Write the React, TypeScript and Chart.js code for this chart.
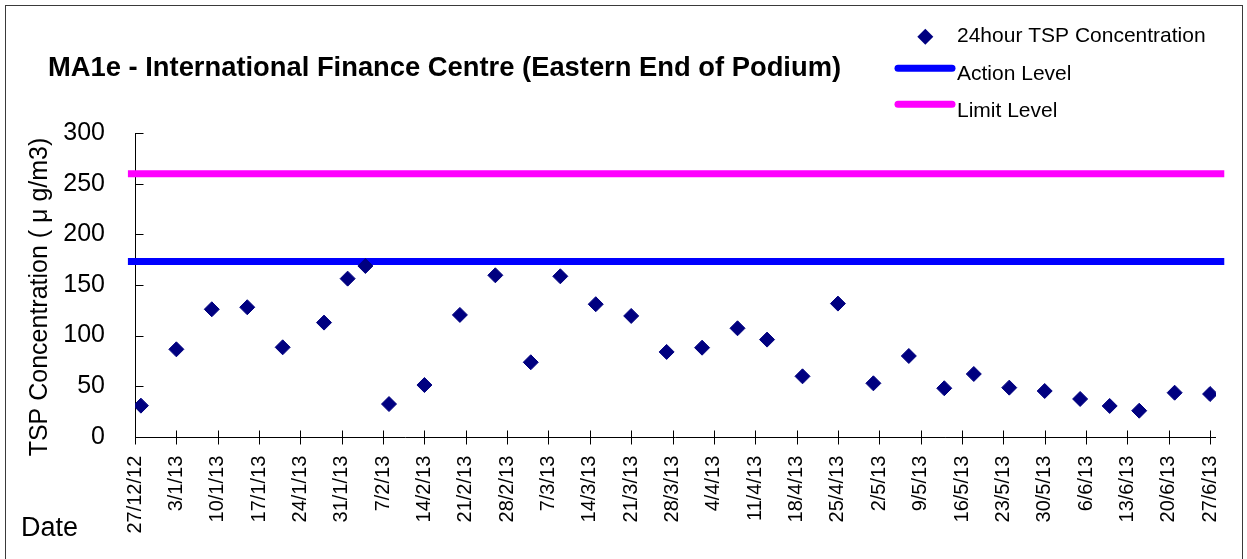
import { useEffect, useRef } from "react";
import { Chart, registerables } from "chart.js";

Chart.register(...registerables);

const chartTitle = "MA1e - International Finance Centre (Eastern End of Podium)";
const yAxisTitle = "TSP Concentration ( \u03bc g/m3)";
const xAxisTitle = "Date";
const seriesLabels = ["24hour TSP Concentration", "Action Level", "Limit Level"];

const sampleDates = [
  "28/12/12", "3/1/13", "9/1/13", "15/1/13", "21/1/13", "28/1/13", "1/2/13", "4/2/13",
  "8/2/13", "14/2/13", "20/2/13", "26/2/13", "4/3/13", "9/3/13", "15/3/13", "21/3/13",
  "27/3/13", "2/4/13", "8/4/13", "13/4/13", "19/4/13", "25/4/13", "1/5/13", "7/5/13",
  "13/5/13", "18/5/13", "24/5/13", "30/5/13", "5/6/13", "10/6/13", "15/6/13", "21/6/13",
  "27/6/13",
];
const tspValues = [
  30.7, 86.4, 126.0, 128.0, 88.4, 112.8, 156.3, 168.8,
  32.3, 51.1, 120.4, 159.6, 73.6, 158.6, 131.0, 119.4,
  83.8, 88.0, 107.2, 96.0, 59.7, 131.6, 52.8, 79.8,
  47.9, 62.0, 48.5, 45.2, 37.3, 30.4, 25.7, 43.5,
  42.2,
];
const actionLevel = 173.3;
const limitLevel = 260;
// level lines run slightly past both ends of the date axis (days from 27/12/12)
const levelLineDays = [-1.2, 184.4];

const tickLabels = [
  "27/12/12", "3/1/13", "10/1/13", "17/1/13", "24/1/13", "31/1/13", "7/2/13", "14/2/13",
  "21/2/13", "28/2/13", "7/3/13", "14/3/13", "21/3/13", "28/3/13", "4/4/13", "11/4/13",
  "18/4/13", "25/4/13", "2/5/13", "9/5/13", "16/5/13", "23/5/13", "30/5/13", "6/6/13",
  "13/6/13", "20/6/13", "27/6/13",
];
const xAxisEndDate = "28/6/13";
const yMin = 0;
const yMax = 300;
const yStep = 50;

const FONT = '"Liberation Sans", Arial, Helvetica, sans-serif';

function parseDMY(s: string): number {
  const [d, m, y] = s.split("/").map(Number);
  return Date.UTC(2000 + y, m - 1, d);
}
const originTime = parseDMY(tickLabels[0]);
function dayIndex(s: string): number {
  return Math.round((parseDMY(s) - originTime) / 86400000);
}

const decorPlugin = {
  id: "decor",
  beforeDatasetsDraw(chart: any) {
    const { ctx, chartArea, scales } = chart;
    const xs = scales.x;
    const ys = scales.y;
    ctx.save();
    ctx.strokeStyle = "#000";
    ctx.lineWidth = 1;
    const ax = Math.round(chartArea.left) + 0.5;
    const ay = Math.round(chartArea.bottom) + 0.5;
    ctx.beginPath();
    ctx.moveTo(ax, Math.round(chartArea.top));
    ctx.lineTo(ax, ay);
    ctx.lineTo(Math.round(chartArea.right), ay);
    for (let v = yMin; v <= yMax; v += yStep) {
      const py = Math.round(ys.getPixelForValue(v)) + 0.5;
      ctx.moveTo(ax, py);
      ctx.lineTo(ax + 8, py);
    }
    xs.ticks.forEach((t: any) => {
      const px = Math.round(xs.getPixelForValue(t.value)) + 0.5;
      ctx.moveTo(px, ay - 7);
      ctx.lineTo(px, ay + 7);
    });
    ctx.stroke();
    ctx.restore();
  },
  afterDraw(chart: any) {
    const { ctx } = chart;
    const ds = chart.data.datasets;
    ctx.save();
    ctx.fillStyle = "#000";
    ctx.textAlign = "left";
    ctx.textBaseline = "alphabetic";
    // title
    ctx.font = `bold 27.35px ${FONT}`;
    ctx.fillText(chartTitle, 48, 75.5);
    // legend
    ctx.font = `21px ${FONT}`;
    const rows = [42.3, 80, 116.5];
    const markY = [36.7, 68.3, 104.3];
    ds.forEach((d: any, i: number) => {
      if (i === 0) {
        const cx = 925.3;
        const cy = markY[i];
        const r = 8;
        ctx.beginPath();
        ctx.moveTo(cx - r, cy);
        ctx.lineTo(cx, cy - r);
        ctx.lineTo(cx + r, cy);
        ctx.lineTo(cx, cy + r);
        ctx.closePath();
        ctx.fillStyle = d.backgroundColor;
        ctx.fill();
      } else {
        ctx.beginPath();
        ctx.lineCap = "round";
        ctx.lineWidth = 7;
        ctx.strokeStyle = d.borderColor;
        ctx.moveTo(898, markY[i]);
        ctx.lineTo(952, markY[i]);
        ctx.stroke();
      }
      ctx.fillStyle = "#000";
      ctx.fillText(d.label, 957, rows[i]);
    });
    // axis titles
    ctx.font = `27px ${FONT}`;
    ctx.fillText(xAxisTitle, 21, 536);
    ctx.save();
    ctx.translate(40, 297);
    ctx.rotate(-Math.PI / 2);
    ctx.textAlign = "center";
    ctx.textBaseline = "middle";
    ctx.font = `25px ${FONT}`;
    ctx.fillText(yAxisTitle, 0, 0);
    ctx.restore();
    ctx.restore();
  },
};

export default function App() {
  const canvasRef = useRef<HTMLCanvasElement | null>(null);

  useEffect(() => {
    const canvas = canvasRef.current;
    if (!canvas) return;
    const scatterData = sampleDates.map((d, i) => ({ x: dayIndex(d), y: tspValues[i] }));
    const actionData = levelLineDays.map((x) => ({ x, y: actionLevel }));
    const limitData = levelLineDays.map((x) => ({ x, y: limitLevel }));

    const chart = new Chart(canvas, {
      type: "scatter",
      data: {
        datasets: [
          {
            label: seriesLabels[0],
            data: scatterData,
            backgroundColor: "#000080",
            borderColor: "#000080",
            borderWidth: 1,
            pointStyle: "rectRot",
            pointRadius: 7.5,
            showLine: false,
          },
          {
            label: seriesLabels[1],
            data: actionData,
            type: "line",
            borderColor: "#0000FF",
            backgroundColor: "#0000FF",
            borderWidth: 7,
            pointRadius: 0,
            showLine: true,
            fill: false,
            clip: false,
          } as any,
          {
            label: seriesLabels[2],
            data: limitData,
            type: "line",
            borderColor: "#FF00FF",
            backgroundColor: "#FF00FF",
            borderWidth: 7,
            pointRadius: 0,
            showLine: true,
            fill: false,
            clip: false,
          } as any,
        ],
      },
      options: {
        responsive: false,
        animation: false,
        devicePixelRatio: 1,
        events: [],
        layout: { padding: { top: 133.3, right: 31, left: 0, bottom: 0 } },
        plugins: {
          legend: { display: false },
          title: { display: false },
          tooltip: { enabled: false },
        },
        scales: {
          x: {
            type: "linear",
            min: 0,
            max: dayIndex(xAxisEndDate),
            grid: { display: false },
            border: { display: false },
            afterBuildTicks: (scale: any) => {
              scale.ticks = tickLabels.map((l) => ({ value: dayIndex(l) }));
            },
            afterFit: (scale: any) => {
              scale.height = 122.3;
              scale.paddingLeft = 0;
              scale.paddingRight = 0;
            },
            ticks: {
              autoSkip: false,
              minRotation: 90,
              maxRotation: 90,
              padding: 11,
              color: "#000",
              font: { family: FONT, size: 20 },
              callback: (_v: any, i: number) => tickLabels[i],
            },
          },
          y: {
            min: yMin,
            max: yMax,
            grid: { display: false },
            border: { display: false },
            afterFit: (scale: any) => {
              scale.width = 135;
              scale.paddingTop = 0;
              scale.paddingBottom = 0;
            },
            ticks: {
              stepSize: yStep,
              padding: 22,
              color: "#000",
              font: { family: FONT, size: 25 },
            },
          },
        },
      },
      plugins: [decorPlugin],
    });
    return () => chart.destroy();
  }, []);

  return (
    <div
      style={{
        position: "fixed",
        left: 0,
        top: 0,
        width: 1247,
        height: 559,
        overflow: "hidden",
        background: "#fff",
      }}
    >
      <div
        style={{
          position: "absolute",
          left: 5,
          top: 5,
          width: 1236,
          height: 600,
          border: "1px solid #3a3a3a",
        }}
      />
      <canvas
        ref={canvasRef}
        width={1247}
        height={559}
        style={{ position: "absolute", left: 0, top: 0, width: 1247, height: 559 }}
      />
    </div>
  );
}
